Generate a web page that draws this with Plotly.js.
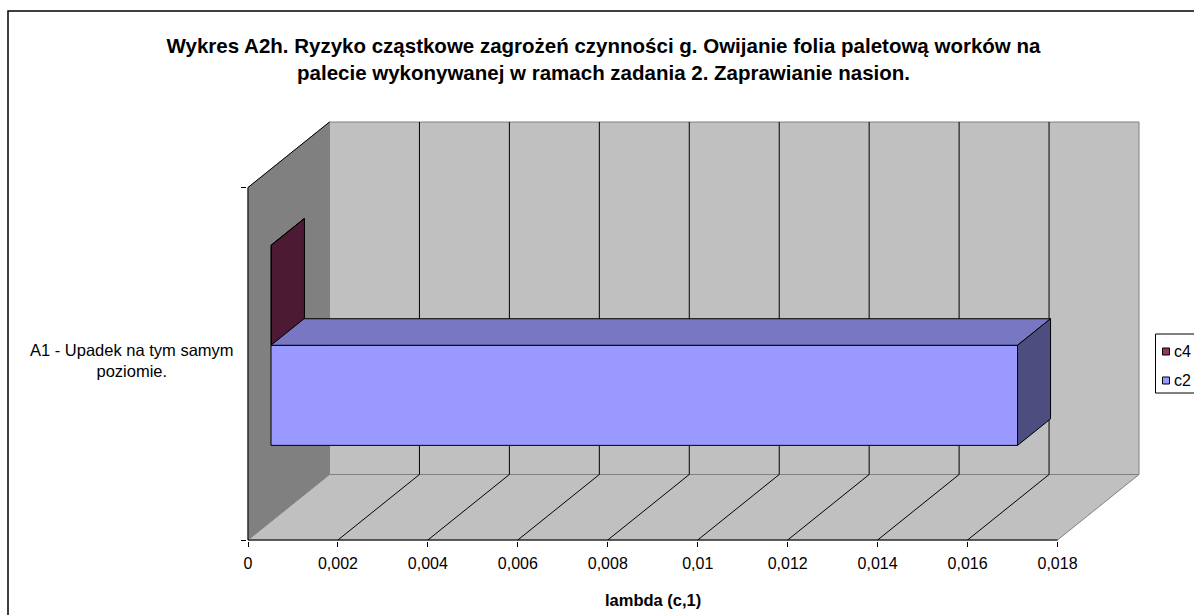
<!DOCTYPE html>
<html><head><meta charset="utf-8">
<script src="https://cdn.plot.ly/plotly-3.0.1.min.js"></script>
<style>body{margin:0;background:#fff}</style>
</head><body><div id="chart" style="width:1194px;height:615px"></div>
<script>
// ---------- data ----------
const titleText = "Wykres A2h. Ryzyko cząstkowe zagrożeń czynności g. Owijanie folia paletową worków na<br>palecie wykonywanej w ramach zadania 2. Zaprawianie nasion.";
const categories = ["A1 - Upadek na tym samym<br>poziomie."];
const seriesNames = ["c2", "c4"];          // drawn bottom -> top within the category
const c2Values = [0.0166];
const c4Values = [0.00001];
const tickValues = [0, 0.002, 0.004, 0.006, 0.008, 0.01, 0.012, 0.014, 0.016, 0.018];
const tickLabels = ["0", "0,002", "0,004", "0,006", "0,008", "0,01", "0,012", "0,014", "0,016", "0,018"];
const xAxisTitle = "lambda (c,1)";
const legendOrder = ["c4", "c2"];

// ---------- styles / geometry ----------
const W = 1194, H = 615;
const FONT = "Liberation Sans, Arial, sans-serif";
const styles = {
  c2: {front: "#9999FF", top: "#7878C2", side: "#4D4D80"},
  c4: {front: "#993366", top: "#7A2952", side: "#4C1A33"}
};
const seriesValues = {c2: c2Values, c4: c4Values};
const xMaxTick = tickValues[tickValues.length - 1];
const x0px = 247.5, pxPerX = 809.5 / xMaxTick;
const yBotPx = 540, pxPerY = 352.5;
const Dv = 81.5 / pxPerX, Dy = 65.5 / pxPerY;   // full depth in data units
const f1 = 23 / 81.5, f2 = 56 / 81.5;           // bar front/back depth fractions
const barW = 0.284;

const xMin = -1 / pxPerX, xMax = xMaxTick + Dv + 2 / pxPerX;
const yMin = -0.5 - 1 / pxPerY, yMax = 0.5 + Dy + 2 / pxPerY;
const mL = x0px + xMin * pxPerX;
const plotW = (xMax - xMin) * pxPerX;
const mR = W - mL - plotW;
const plotBot = yBotPx + (-0.5 - yMin) * pxPerY;
const plotH = (yMax - yMin) * pxPerY;
const mB = H - plotBot;
const mT = plotBot - plotH;
const px2x = p => (p - mL) / plotW;
const py2y = p => (plotBot - p) / plotH;

const catPos = categories.map((c, i) => i);
const shapes = [];
const annotations = [];
const traces = [];

// walls and floor
const yLo = -0.5, yHi = catPos.length - 0.5;
shapes.push({type: "path", layer: "below", xref: "x", yref: "y",
  path: `M0,${yLo} L0,${yHi} L${Dv},${yHi + Dy} L${Dv},${yLo + Dy} Z`,
  fillcolor: "#808080", line: {color: "#808080", width: 1}});
shapes.push({type: "rect", layer: "below", xref: "x", yref: "y",
  x0: Dv, x1: xMaxTick + Dv, y0: yLo + Dy, y1: yHi + Dy,
  fillcolor: "#C0C0C0", line: {color: "#808080", width: 1}});
shapes.push({type: "path", layer: "below", xref: "x", yref: "y",
  path: `M0,${yLo} L${xMaxTick},${yLo} L${xMaxTick + Dv},${yLo + Dy} L${Dv},${yLo + Dy} Z`,
  fillcolor: "#C0C0C0", line: {color: "#808080", width: 1}});
// gridlines
tickValues.slice(1, -1).forEach(t => {
  shapes.push({type: "line", layer: "below", xref: "x", yref: "y",
    x0: t + Dv, x1: t + Dv, y0: yLo + Dy, y1: yHi + Dy, line: {color: "#000", width: 1}});
  shapes.push({type: "line", layer: "below", xref: "x", yref: "y",
    x0: t, x1: t + Dv, y0: yLo, y1: yLo + Dy, line: {color: "#000", width: 1}});
});
// axis edges
shapes.push({type: "line", layer: "below", xref: "x", yref: "y", x0: 0, x1: 0, y0: yLo, y1: yHi, line: {color: "#000", width: 1}});
shapes.push({type: "line", layer: "below", xref: "x", yref: "y", x0: 0, x1: Dv, y0: yHi, y1: yHi + Dy, line: {color: "#000", width: 1}});
shapes.push({type: "line", layer: "below", xref: "x", yref: "y", x0: 0, x1: xMaxTick, y0: yLo, y1: yLo, line: {color: "#000", width: 1}});

// bars
const drawOrder = seriesNames.slice().reverse();
seriesNames.forEach((name, si) => {
  const vals = seriesValues[name];
  const yc = catPos.map(p => p + (si - (seriesNames.length - 1) / 2) * barW + f1 * Dy);
  traces.push({type: "bar", orientation: "h", name: name,
    x: vals, y: yc, base: vals.map(() => f1 * Dv), width: vals.map(() => barW),
    marker: {color: styles[name].front, line: {color: "#000", width: 1}},
    showlegend: false, hoverinfo: "skip"});
});
drawOrder.forEach(name => {
  const si = seriesNames.indexOf(name);
  const vals = seriesValues[name];
  const ddx = (f2 - f1) * Dv, ddy = (f2 - f1) * Dy;
  vals.forEach((v, ci) => {
    const yc = catPos[ci] + (si - (seriesNames.length - 1) / 2) * barW + f1 * Dy;
    const yt = yc + barW / 2, yb = yc - barW / 2;
    const xa = f1 * Dv, xb = xa + v;
    shapes.push({type: "path", layer: "above", xref: "x", yref: "y",
      path: `M${xa},${yt} L${xb},${yt} L${xb + ddx},${yt + ddy} L${xa + ddx},${yt + ddy} Z`,
      fillcolor: styles[name].top, line: {color: "#000", width: 1}});
    shapes.push({type: "path", layer: "above", xref: "x", yref: "y",
      path: `M${xb},${yb} L${xb},${yt} L${xb + ddx},${yt + ddy} L${xb + ddx},${yb + ddy} Z`,
      fillcolor: styles[name].side, line: {color: "#000", width: 1}});
  });
});

// category labels
categories.forEach((c, i) => {
  annotations.push({text: c, xref: "paper", x: px2x(131), xanchor: "center",
    yref: "y", y: catPos[i], yanchor: "middle", yshift: 3, showarrow: false, align: "center",
    font: {family: FONT, size: 16.5, color: "#000"}});
});
// x axis title
annotations.push({text: xAxisTitle, xref: "x", x: (tickValues[0] + xMaxTick) / 2, xanchor: "center",
  yref: "paper", y: py2y(600), yanchor: "middle", showarrow: false,
  font: {family: FONT, size: 16.5, color: "#000", weight: 700}});

// legend (custom, clipped by the page edge like the reference)
shapes.push({type: "rect", xref: "paper", yref: "paper", x0: px2x(1155), x1: px2x(1215),
  y0: py2y(334), y1: py2y(393), fillcolor: "#fff", line: {color: "#000", width: 1}});
legendOrder.forEach((name, k) => {
  const cy = 351.5 + k * 29;
  shapes.push({type: "rect", xref: "paper", yref: "paper", x0: px2x(1162), x1: px2x(1169),
    y0: py2y(cy + 3.5), y1: py2y(cy - 3.5), fillcolor: styles[name].front, line: {color: "#000", width: 1}});
  annotations.push({text: name, xref: "paper", x: px2x(1171), xanchor: "left",
    yref: "paper", y: py2y(cy), yanchor: "middle", showarrow: false,
    font: {family: FONT, size: 16, color: "#000"}});
});

// outer chart border
shapes.push({type: "rect", xref: "paper", yref: "paper", x0: px2x(7.5), x1: px2x(1215),
  y0: py2y(640), y1: py2y(11), line: {color: "#000", width: 1.5}});

const layout = {
  width: W, height: H,
  margin: {l: mL, r: mR, t: mT, b: mB, pad: 0},
  paper_bgcolor: "#fff", plot_bgcolor: "#fff",
  title: {text: titleText, x: 603.5 / W, xref: "container", xanchor: "center",
    y: 1 - 53 / H, yref: "container", yanchor: "top",
    font: {family: FONT, size: 20.5, color: "#000", weight: 700}},
  xaxis: {range: [xMin, xMax], tickmode: "array", tickvals: tickValues, ticktext: tickLabels,
    ticks: "outside", ticklen: 5, tickcolor: "#000", tickwidth: 1, ticklabelstandoff: 3,
    showgrid: false, zeroline: false, showline: false, fixedrange: true,
    tickfont: {family: FONT, size: 16, color: "#000"}},
  yaxis: {range: [yMin, yMax], tickmode: "array", tickvals: [yLo, yHi], ticktext: ["", ""],
    ticks: "outside", ticklen: 5, tickcolor: "#000", tickwidth: 1,
    showgrid: false, zeroline: false, showline: false, fixedrange: true},
  barmode: "overlay",
  showlegend: false,
  shapes: shapes,
  annotations: annotations
};
Plotly.newPlot("chart", traces, layout, {displayModeBar: false, staticPlot: true});
</script>
</body></html>
